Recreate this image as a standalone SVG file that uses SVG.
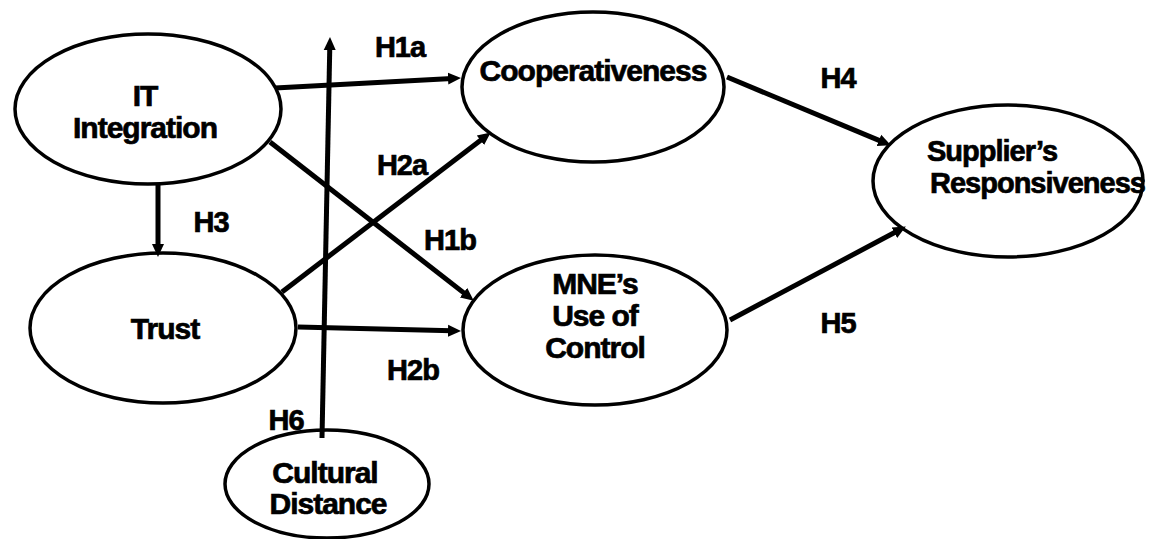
<svg xmlns="http://www.w3.org/2000/svg" width="1150" height="539" viewBox="0 0 1150 539">
<style>
.node ellipse{fill:#fff;stroke:#000;stroke-width:3.5}
.lbl{font-family:"Liberation Sans",Arial,sans-serif;font-weight:bold;font-size:30px;letter-spacing:-1px;fill:#000;stroke:#000;stroke-width:0.7;text-anchor:middle}
.h{font-family:"Liberation Sans",Arial,sans-serif;font-weight:bold;font-size:29px;letter-spacing:-1px;fill:#000;stroke:#000;stroke-width:0.7;text-anchor:middle}
.conn line{stroke:#000;stroke-width:5;marker-end:url(#ah)}
</style>
<defs>
<marker id="ah" markerUnits="userSpaceOnUse" markerWidth="14" markerHeight="14" refX="4" refY="7" orient="auto">
<path d="M0,1 L13,7 L0,13 z" fill="#000"/>
</marker>
</defs>
<rect width="1150" height="539" fill="#fff"/>
<g id="n-it" class="node"><ellipse cx="148" cy="109" rx="133" ry="75"/><text class="lbl" x="145" y="106">IT</text><text class="lbl" x="145" y="138">Integration</text></g>
<g id="n-trust" class="node"><ellipse cx="163" cy="328" rx="133" ry="75"/><text class="lbl" x="165" y="339">Trust</text></g>
<g id="n-coop" class="node"><ellipse cx="593" cy="87" rx="131" ry="75"/><text class="lbl" x="593" y="81">Cooperativeness</text></g>
<g id="n-mne" class="node"><ellipse cx="595" cy="330" rx="132" ry="75"/><text class="lbl" x="595" y="294">MNE’s</text><text class="lbl" x="595" y="326">Use of</text><text class="lbl" x="595" y="358">Control</text></g>
<g id="n-sup" class="node"><ellipse cx="1008" cy="181" rx="135" ry="76"/><text class="lbl" x="927" y="161" style="text-anchor:start;font-size:29px">Supplier’s</text><text class="lbl" x="930" y="193" style="text-anchor:start;font-size:29px">Responsiveness</text></g>
<g id="n-cult" class="node"><ellipse cx="327" cy="484" rx="102" ry="54"/><text class="lbl" x="325" y="483">Cultural</text><text class="lbl" x="328" y="514">Distance</text></g>
<g id="connectors" class="conn">
<line x1="275" y1="88" x2="452" y2="78.4"/>
<line x1="282" y1="292" x2="483.6" y2="137.9"/>
<line x1="270" y1="142" x2="466.7" y2="295.1"/>
<line x1="298" y1="327" x2="452" y2="330.8"/>
<line x1="158" y1="185" x2="158" y2="248"/>
<line x1="727" y1="77" x2="882.6" y2="141.9"/>
<line x1="730" y1="320" x2="897.9" y2="230.8"/>
<line x1="322" y1="438" x2="329.8" y2="46"/>
</g>
<g id="labels">
<text class="h" x="400" y="57">H1a</text>
<text class="h" x="402" y="175">H2a</text>
<text class="h" x="211" y="232">H3</text>
<text class="h" x="450" y="250">H1b</text>
<text class="h" x="413" y="380">H2b</text>
<text class="h" x="286" y="430">H6</text>
<text class="h" x="838" y="88">H4</text>
<text class="h" x="838" y="333">H5</text>
</g>
</svg>
